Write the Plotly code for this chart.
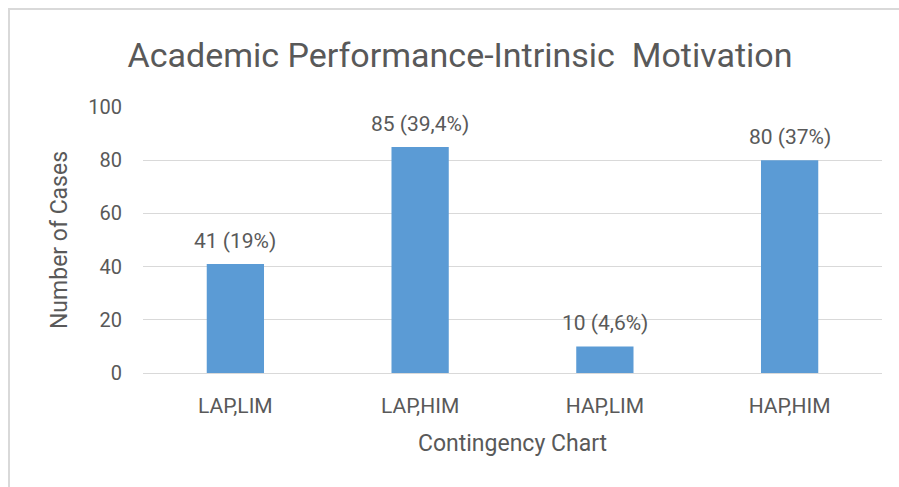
import plotly.graph_objects as go

categories = ["LAP,LIM", "LAP,HIM", "HAP,LIM", "HAP,HIM"]
counts = [41, 85, 10, 80]
labels = ["41 (19%)", "85 (39,4%)", "10 (4,6%)", "80 (37%)"]
y_ticks = [0, 20, 40, 60, 80, 100]

W, H = 899, 487
L, R, T, B = 143, 17, 107, 114
pw, ph = W - L - R, H - T - B

FONT = "Roboto, sans-serif"
GREY = "#595959"

fig = go.Figure()
fig.add_trace(go.Bar(
    x=categories, y=counts,
    marker=dict(color="#5B9BD5", line=dict(width=0)),
    hoverinfo="skip",
))

annotations = []
for c, v, t in zip(categories, counts, labels):
    annotations.append(dict(
        x=c, y=v, xref="x", yref="y", text=t, showarrow=False,
        yanchor="bottom", yshift=9,
        font=dict(family=FONT, size=21, color=GREY),
    ))

def px2x(px):
    return (px - L) / pw

def py2y(py):
    return (H - B - py) / ph

shapes = [
    dict(type="line", xref="paper", yref="paper",
         x0=px2x(8), x1=px2x(899), y0=py2y(9), y1=py2y(9),
         line=dict(color="#D9D9D9", width=2)),
    dict(type="line", xref="paper", yref="paper",
         x0=px2x(9), x1=px2x(9), y0=py2y(8), y1=py2y(487),
         line=dict(color="#D9D9D9", width=2)),
]

fig.update_layout(
    width=W, height=H,
    margin=dict(l=L, r=R, t=T, b=B),
    paper_bgcolor="white", plot_bgcolor="white",
    bargap=0.69,
    showlegend=False,
    font=dict(family=FONT, color=GREY),
    title=dict(
        text="Academic Performance-Intrinsic  Motivation",
        x=460 / W, xanchor="center",
        y=1 - 55 / H, yanchor="middle",
        font=dict(family=FONT, size=34, color=GREY),
    ),
    xaxis=dict(
        showgrid=False, showline=False, ticks="",
        ticklabelstandoff=18,
        tickfont=dict(family=FONT, size=21, color=GREY),
        title=dict(text="Contingency Chart", font=dict(family=FONT, size=23, color=GREY), standoff=17),
    ),
    yaxis=dict(
        range=[0, 100], tickvals=y_ticks,
        showgrid=True, gridcolor="#D9D9D9", gridwidth=1,
        zeroline=True, zerolinecolor="#D9D9D9", zerolinewidth=1,
        showline=False, ticks="", ticklabelstandoff=20,
        tickfont=dict(family=FONT, size=20, color=GREY),
        title=dict(text="Number of Cases", font=dict(family=FONT, size=23, color=GREY), standoff=14),
    ),
    annotations=annotations,
    shapes=shapes,
)

fig.write_html("out.html", config={"displayModeBar": False},
               post_script="document.body.style.margin='0';")
